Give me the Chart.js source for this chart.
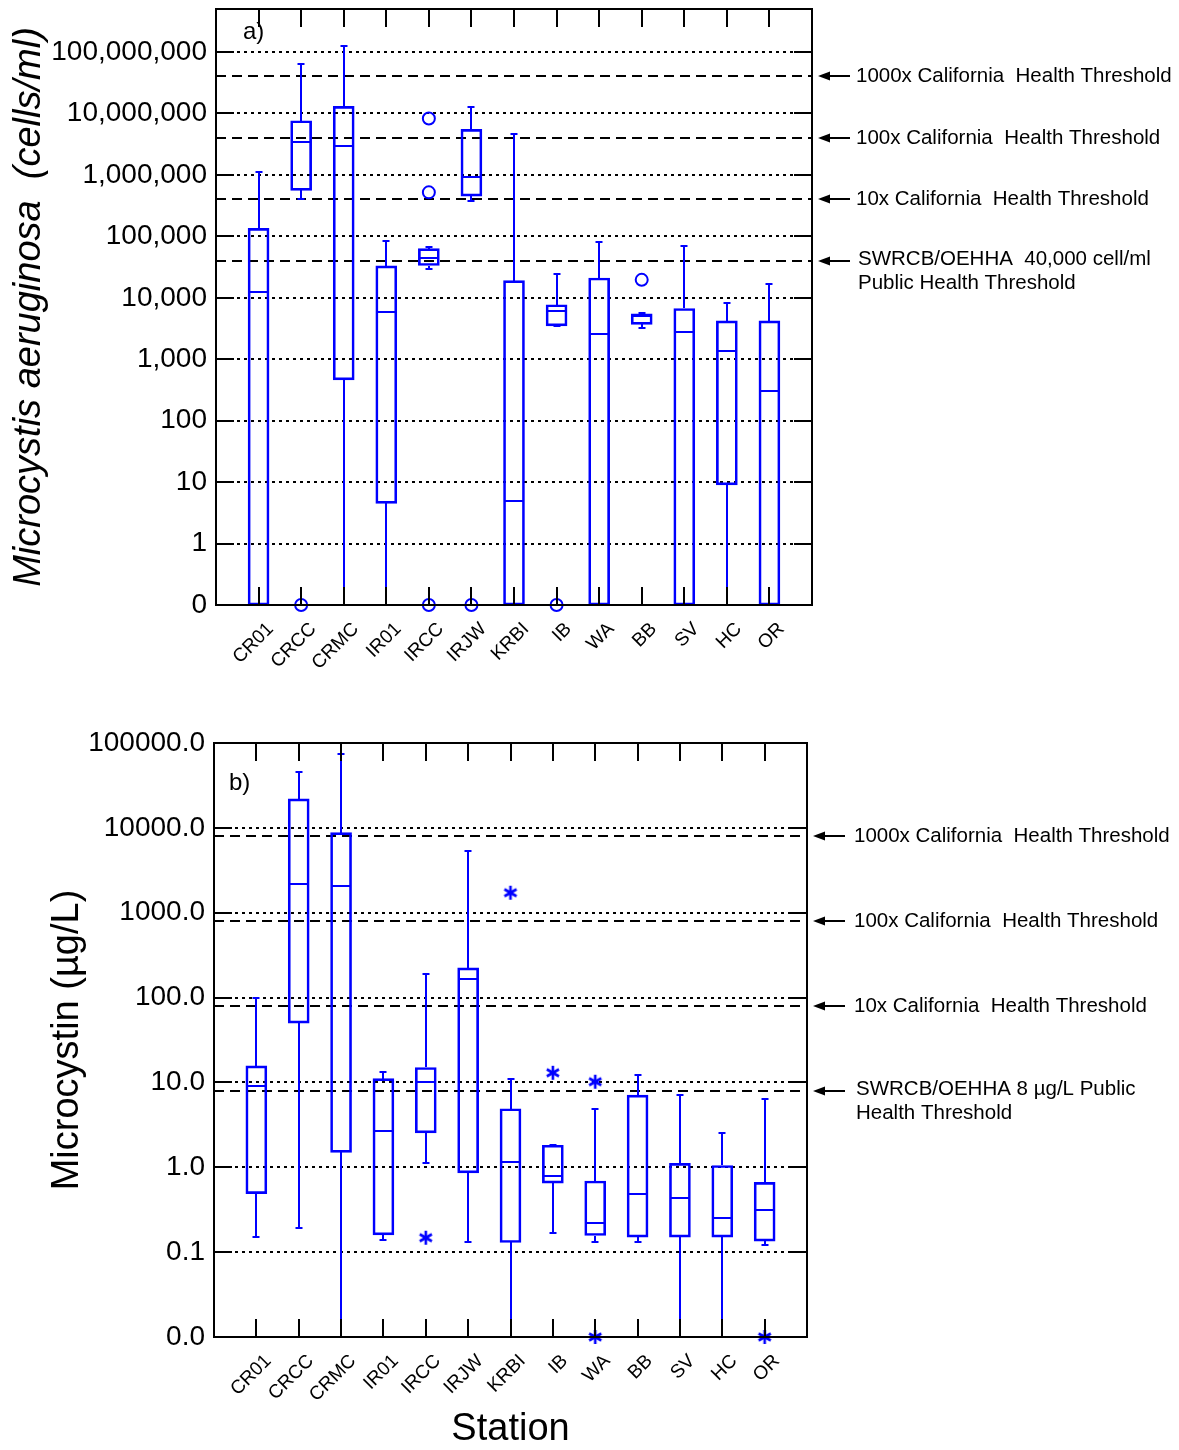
<!DOCTYPE html>
<html>
<head>
<meta charset="utf-8">
<script src="https://cdn.jsdelivr.net/npm/chart.js@4.4.1/dist/chart.umd.min.js"></script>
<style>
  html, body { margin: 0; padding: 0; background: #fff; overflow: hidden; }
  canvas { position: absolute; left: 0; }
  #cellChart { top: 0; }
  #toxChart { top: 700px; }
</style>
</head>
<body>
<canvas id="cellChart" width="1179" height="700"></canvas>
<canvas id="toxChart" width="1179" height="750"></canvas>
<script>
const stations = ['CR01', 'CRCC', 'CRMC', 'IR01', 'IRCC', 'IRJW', 'KRBI', 'IB', 'WA', 'BB', 'SV', 'HC', 'OR'];

// a) Microcystis aeruginosa (cells/ml), 0 = not detected
const cellMin = [0, 400000, 0, 0, 29000, 370000, 0, 3500, 0, 3200, 0, 0, 0];
const cellQ1  = [0, 560000, 460, 4.5, 33500, 450000, 0, 3500, 0, 3700, 0, 9, 0];
const cellMed = [12500, 3400000, 2900000, 5800, 44000, 940000, 4.9, 6000, 2600, 5000, 2750, 1370, 300];
const cellQ3  = [135000, 7600000, 13000000, 33000, 63000, 5500000, 19000, 7700, 21000, 5500, 6700, 4200, 4200];
const cellMax = [1100000, 63000000, 126000000, 85000, 66000, 12800000, 4700000, 24500, 81000, 5600, 69000, 8200, 17000];
const cellOutStation = ['CRCC', 'IRCC', 'IRCC', 'IRCC', 'IRJW', 'IB', 'BB'];
const cellOutValue   = [0, 8300000, 520000, 0, 0, 0, 19600];
const cellThresholds = [40000, 400000, 4000000, 40000000];
const cellThresholdText = [
  ['SWRCB/OEHHA  40,000 cell/ml', 'Public Health Threshold'],
  ['10x California  Health Threshold'],
  ['100x California  Health Threshold'],
  ['1000x California  Health Threshold']
];

// b) Microcystin (ug/L)
const toxMin = [0.15, 0.19, 0, 0.14, 1.12, 0.13, 0, 0.17, 0.13, 0.13, 0, 0, 0.12];
const toxQ1  = [0.49, 50, 1.5, 0.16, 2.54, 0.86, 0.13, 0.65, 0.157, 0.15, 0.15, 0.15, 0.135];
const toxMed = [9.0, 2200, 2050, 2.66, 10.2, 164, 1.14, 0.78, 0.22, 0.48, 0.43, 0.25, 0.31];
const toxQ3  = [15.7, 22000, 8800, 11.1, 15, 224, 4.9, 1.82, 0.69, 7.1, 1.11, 1.05, 0.665];
const toxMax = [100, 45000, 74000, 13.3, 190, 5350, 11.1, 1.82, 4.9, 12.2, 7.2, 2.52, 6.4];
const toxOutStation = ['IRCC', 'KRBI', 'IB', 'WA', 'WA', 'OR'];
const toxOutValue   = [0.148, 1720, 13, 10.2, 0, 0];
const toxThresholds = [8, 80, 800, 8000];
const toxThresholdText = [
  ['SWRCB/OEHHA 8 \u00b5g/L Public', 'Health Threshold'],
  ['10x California  Health Threshold'],
  ['100x California  Health Threshold'],
  ['1000x California  Health Threshold']
];

const BLUE = '#0000ff';
const FONT = "'Liberation Sans', Arial, Helvetica, sans-serif";
Chart.defaults.font.family = FONT;
Chart.defaults.color = '#000';

// log position, zero values sit one decade below the lowest labelled decade
function toPos(v, zero) { return v > 0 ? Math.log10(v) : zero; }

function hline(ctx, x1, x2, y) { ctx.beginPath(); ctx.moveTo(x1, y); ctx.lineTo(x2, y); ctx.stroke(); }
function vline(ctx, x, y1, y2) { ctx.beginPath(); ctx.moveTo(x, y1); ctx.lineTo(x, y2); ctx.stroke(); }

function makeAsterisk(size) {
  const c = document.createElement('canvas');
  c.width = c.height = size;
  const g = c.getContext('2d');
  g.strokeStyle = BLUE;
  g.lineWidth = 2.6;
  const r = size / 2 - 1;
  for (let k = 0; k < 3; k++) {
    const a = Math.PI / 2 + k * Math.PI / 3;
    g.beginPath();
    g.moveTo(size / 2 + r * Math.cos(a), size / 2 + r * Math.sin(a));
    g.lineTo(size / 2 - r * Math.cos(a), size / 2 - r * Math.sin(a));
    g.stroke();
  }
  return c;
}

function boxPlugin(s) {
  return {
    id: 'boxes',
    beforeDatasetsDraw(chart) {
      const {ctx, chartArea: {left, right}} = chart;
      const ys = chart.scales.y;
      ctx.save();
      ctx.strokeStyle = '#000';
      ctx.lineWidth = 2;
      ctx.setLineDash([3, 4]);
      ys.ticks.forEach(t => {
        if (t.value === s.zero || t.value >= s.yMax) return;
        hline(ctx, left, right, Math.round(ys.getPixelForValue(t.value)));
      });
      ctx.setLineDash([10, 6]);
      s.thresholds.forEach(v => hline(ctx, left, right, Math.round(ys.getPixelForValue(Math.log10(v)))));
      ctx.restore();
    },
    afterDatasetsDraw(chart) {
      const ctx = chart.ctx;
      const xs = chart.scales.x, ys = chart.scales.y;
      const py = v => Math.round(ys.getPixelForValue(toPos(v, s.zero)));
      ctx.save();
      ctx.strokeStyle = BLUE;
      ctx.lineWidth = 2;
      stations.forEach((st, i) => {
        const x = Math.round(xs.getPixelForValue(i + 1));
        const yMax = py(s.max[i]), yQ3 = py(s.q3[i]), yQ1 = py(s.q1[i]), yMin = py(s.min[i]);
        vline(ctx, x, yQ3, yMax);
        hline(ctx, x - 3.5, x + 3.5, yMax);
        vline(ctx, x, yQ1, yMin);
        hline(ctx, x - 3.5, x + 3.5, yMin);
        hline(ctx, x - 10, x + 10, py(s.med[i]));
      });
      ctx.restore();
    },
    afterDraw(chart) {
      const {ctx, chartArea: {left, right, top, bottom}} = chart;
      const xs = chart.scales.x, ys = chart.scales.y;
      ctx.save();
      ctx.strokeStyle = '#000';
      ctx.fillStyle = '#000';
      ctx.lineWidth = 2;
      ctx.strokeRect(left, top, right - left, bottom - top);
      ys.ticks.forEach(t => {
        const y = Math.round(ys.getPixelForValue(t.value));
        hline(ctx, left, left + 18, y);
        hline(ctx, right - 18, right, y);
      });
      stations.forEach((st, i) => {
        const x = Math.round(xs.getPixelForValue(i + 1));
        vline(ctx, x, top, top + 18);
        vline(ctx, x, bottom, bottom - 18);
      });

      // threshold call-outs
      ctx.font = '20.5px ' + FONT;
      ctx.textBaseline = 'middle';
      ctx.textAlign = 'left';
      s.thresholds.forEach((v, k) => {
        const y = Math.round(ys.getPixelForValue(Math.log10(v)));
        const tip = right + 6;
        ctx.beginPath();
        ctx.moveTo(tip, y);
        ctx.lineTo(tip + 12, y - 4.5);
        ctx.lineTo(tip + 12, y + 4.5);
        ctx.closePath();
        ctx.fill();
        ctx.lineWidth = 2;
        hline(ctx, tip + 10, right + 38, y);
        const lines = s.labels[k];
        if (lines.length === 1) {
          ctx.fillText(lines[0], right + s.textDx, y);
        } else {
          ctx.fillText(lines[0], right + s.textDx + 2, y - 2);
          ctx.fillText(lines[1], right + s.textDx + 2, y + 22);
        }
      });

      ctx.font = '24px ' + FONT;
      ctx.fillText(s.letter, left + s.letterDx, top + s.letterDy);
      ctx.restore();
    }
  };
}

function buildChart(id, s) {
  const boxes = stations.map((st, i) => ({ x: i + 1, y: [toPos(s.q1[i], s.zero), toPos(s.q3[i], s.zero)] }));
  const outliers = s.outStation.map((st, k) => ({ x: stations.indexOf(st) + 1, y: toPos(s.outValue[k], s.zero) }));
  return new Chart(document.getElementById(id), {
    type: 'bar',
    data: {
      datasets: [
        {
          type: 'bar',
          data: boxes,
          borderColor: BLUE,
          backgroundColor: 'rgba(0,0,0,0)',
          borderWidth: 2,
          borderSkipped: false,
          barThickness: 21
        },
        {
          type: 'scatter',
          data: outliers,
          pointStyle: s.marker,
          pointRadius: 6,
          borderColor: BLUE,
          borderWidth: 2,
          backgroundColor: 'rgba(0,0,0,0)',
          clip: false
        }
      ]
    },
    options: {
      responsive: false,
      animation: false,
      events: [],
      layout: { padding: { top: s.padTop, right: s.padRight, left: 0, bottom: 0 } },
      plugins: { legend: { display: false }, tooltip: { enabled: false } },
      scales: {
        x: {
          type: 'linear',
          min: 0,
          max: 14,
          offset: false,
          grid: { display: false, drawTicks: false },
          border: { display: false },
          afterBuildTicks: sc => { sc.ticks = Array.from({ length: 15 }, (_, v) => ({ value: v })); },
          ticks: {
            autoSkip: false,
            minRotation: 45,
            maxRotation: 45,
            padding: 13,
            labelOffset: 12,
            font: { size: 19 },
            callback: v => stations[v - 1] || ''
          },
          title: {
            display: !!s.xTitle,
            text: s.xTitle || '',
            font: { size: 38 },
            padding: { top: 0, bottom: -2 }
          },
          afterFit: sc => {
            sc.height = s.xAxisHeight;
            sc.paddingLeft = 0; sc.paddingRight = 0;
          }
        },
        y: {
          type: 'linear',
          min: s.zero,
          max: s.yMax,
          grid: { display: false, drawTicks: false },
          border: { display: false },
          afterBuildTicks: sc => {
            const t = [];
            for (let v = s.zero; v <= Math.floor(s.yMax); v++) t.push({ value: v });
            sc.ticks = t;
          },
          ticks: { padding: 9, font: { size: 28 }, callback: s.fmt },
          title: {
            display: true,
            text: s.yTitle,
            font: { size: s.yTitleSize, style: s.yTitleStyle },
            padding: { top: s.yTitlePad, bottom: 0 }
          },
          afterFit: sc => {
            sc.width = s.yAxisWidth;
            sc.paddingTop = 0; sc.paddingBottom = 0;
          }
        }
      }
    },
    plugins: [boxPlugin(s)]
  });
}

const withCommas = n => String(n).replace(/\B(?=(\d{3})+(?!\d))/g, ',');

buildChart('cellChart', {
  min: cellMin, q1: cellQ1, med: cellMed, q3: cellQ3, max: cellMax,
  outStation: cellOutStation, outValue: cellOutValue, marker: 'circle',
  thresholds: cellThresholds, labels: cellThresholdText,
  zero: -1, yMax: 8.7,
  padTop: 9, padRight: 367, xAxisHeight: 95, yAxisWidth: 216,
  fmt: v => v === -1 ? '0' : withCommas(Math.round(Math.pow(10, v))),
  yTitle: 'Microcystis aeruginosa  (cells/ml)', yTitleStyle: 'italic', yTitleSize: 38, yTitlePad: 7,
  textDx: 44, letter: 'a)', letterDx: 27, letterDy: 23
});

buildChart('toxChart', {
  min: toxMin, q1: toxQ1, med: toxMed, q3: toxQ3, max: toxMax,
  outStation: toxOutStation, outValue: toxOutValue, marker: makeAsterisk(16),
  thresholds: toxThresholds, labels: toxThresholdText,
  zero: -2, yMax: 5,
  padTop: 43, padRight: 372, xAxisHeight: 113, yAxisWidth: 214,
  fmt: v => v === -2 ? '0.0' : Math.pow(10, v).toFixed(1),
  yTitle: 'Microcystin (\u00b5g/L)', yTitleStyle: 'normal', yTitleSize: 38, yTitlePad: 45,
  xTitle: 'Station',
  textDx: 47, letter: 'b)', letterDx: 15, letterDy: 40
});
</script>
</body>
</html>
